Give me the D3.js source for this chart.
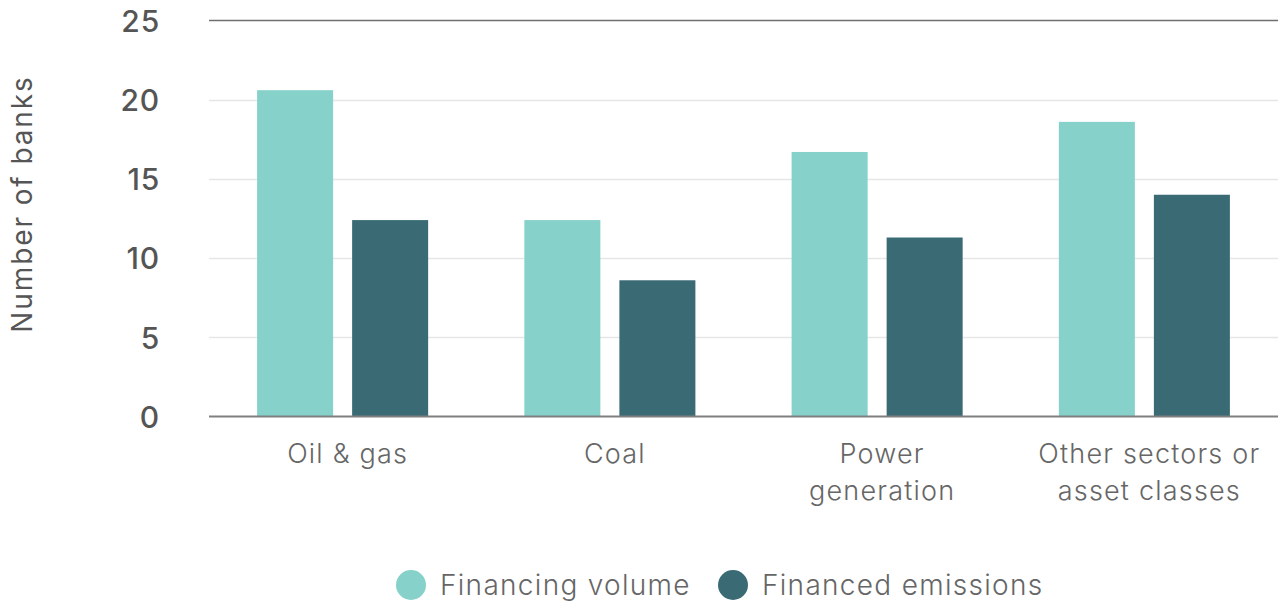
<!DOCTYPE html>
<html>
<head>
<meta charset="utf-8">
<script src="https://cdn.jsdelivr.net/npm/d3@7"></script>
<style>
  html, body { margin: 0; padding: 0; background: #ffffff; }
  svg { display: block; }
  text { font-family: Inter, "Liberation Sans", Arial, sans-serif; }
</style>
</head>
<body>
<svg id="chart" width="1278" height="603"></svg>
<script>
const categories = ["Oil & gas", "Coal", "Power generation", "Other sectors or asset classes"];
const categoryLabelLines = [["Oil & gas"], ["Coal"], ["Power", "generation"], ["Other sectors or", "asset classes"]];
const seriesNames = ["Financing volume", "Financed emissions"];
const financingVolume = [20.6, 12.4, 16.7, 18.6];
const financedEmissions = [12.4, 8.6, 11.3, 14.0];
const yTicks = [0, 5, 10, 15, 20, 25];
const seriesColors = ["#86d1ca", "#3a6b75"];

const svg = d3.select("#chart");
const margin = { left: 209, right: 0, top: 20.5, bottom: 186.5 };
const W = 1278, H = 603;

const x0 = d3.scaleBand().domain(categories)
  .range([margin.left, W - margin.right])
  .paddingInner(0.36).paddingOuter(0.18);
const x1 = d3.scaleBand().domain(seriesNames)
  .range([0, x0.bandwidth()]).paddingInner(0.2).paddingOuter(0);
const y = d3.scaleLinear().domain([0, 25]).range([H - margin.bottom, margin.top]);
const color = d3.scaleOrdinal().domain(seriesNames).range(seriesColors);

// gridlines
const grid = svg.append("g");
grid.selectAll("line").data(yTicks.filter(d => d !== 0 && d !== 25)).join("line")
  .attr("x1", margin.left).attr("x2", W)
  .attr("y1", d => Math.round(y(d)) + 0.5).attr("y2", d => Math.round(y(d)) + 0.5)
  .attr("stroke", "#e6e6e6").attr("stroke-width", 1.5);
svg.append("line")
  .attr("x1", margin.left).attr("x2", W)
  .attr("y1", y(25)).attr("y2", y(25))
  .attr("stroke", "#6f6f6f").attr("stroke-width", 1.3);

// y axis labels
const yAxis = d3.axisLeft(y).tickValues(yTicks).tickSize(0).tickPadding(49);
const yg = svg.append("g").attr("transform", `translate(${margin.left},0)`).call(yAxis);
yg.select(".domain").remove();
yg.selectAll("text")
  .attr("font-size", 30).attr("font-weight", 500).attr("fill", "#555555")
  .attr("letter-spacing", 0.8)
  .attr("font-family", "Inter, 'Liberation Sans', Arial, sans-serif")
  .attr("dy", "0.36em");

// bars
const rows = categories.map((c, i) => ({ cat: c, values: [financingVolume[i], financedEmissions[i]] }));
const groups = svg.append("g").selectAll("g").data(rows).join("g")
  .attr("transform", d => `translate(${x0(d.cat)},0)`);
groups.selectAll("rect")
  .data(d => d.values.map((v, j) => ({ series: seriesNames[j], value: v })))
  .join("rect")
  .attr("x", d => x1(d.series))
  .attr("width", x1.bandwidth())
  .attr("y", d => y(d.value))
  .attr("height", d => y(0) - y(d.value))
  .attr("fill", d => color(d.series));

// baseline
svg.append("line")
  .attr("x1", margin.left).attr("x2", W)
  .attr("y1", y(0)).attr("y2", y(0))
  .attr("stroke", "#808080").attr("stroke-width", 1.8);

// x labels
const xl = svg.append("g");
categories.forEach((c, i) => {
  const cx = x0(c) + x0.bandwidth() / 2 + 5;
  const t = xl.append("text")
    .attr("x", cx)
    .attr("y", 463)
    .attr("text-anchor", "middle")
    .attr("font-size", 27).attr("font-weight", 300)
    .attr("letter-spacing", 1.2)
    .attr("fill", "#666666");
  categoryLabelLines[i].forEach((line, k) => {
    t.append("tspan").attr("x", cx)
      .attr("dy", k === 0 ? 0 : 37).text(line);
  });
});

// y title
svg.append("text")
  .attr("transform", "translate(32,204) rotate(-90)")
  .attr("text-anchor", "middle")
  .attr("font-size", 28).attr("font-weight", 400)
  .attr("letter-spacing", 1.9)
  .attr("fill", "#555555")
  .text("Number of banks");

// legend
const legendItems = [
  { name: seriesNames[0], cx: 411, tx: 440 },
  { name: seriesNames[1], cx: 733, tx: 762 }
];
const lg = svg.append("g");
legendItems.forEach(it => {
  lg.append("circle").attr("cx", it.cx).attr("cy", 585).attr("r", 15).attr("fill", color(it.name));
  lg.append("text").attr("x", it.tx).attr("y", 585).attr("dy", "0.36em")
    .attr("font-size", 28).attr("font-weight", 300).attr("fill", "#666666")
    .attr("letter-spacing", 1.3)
    .text(it.name);
});
</script>
</body>
</html>
